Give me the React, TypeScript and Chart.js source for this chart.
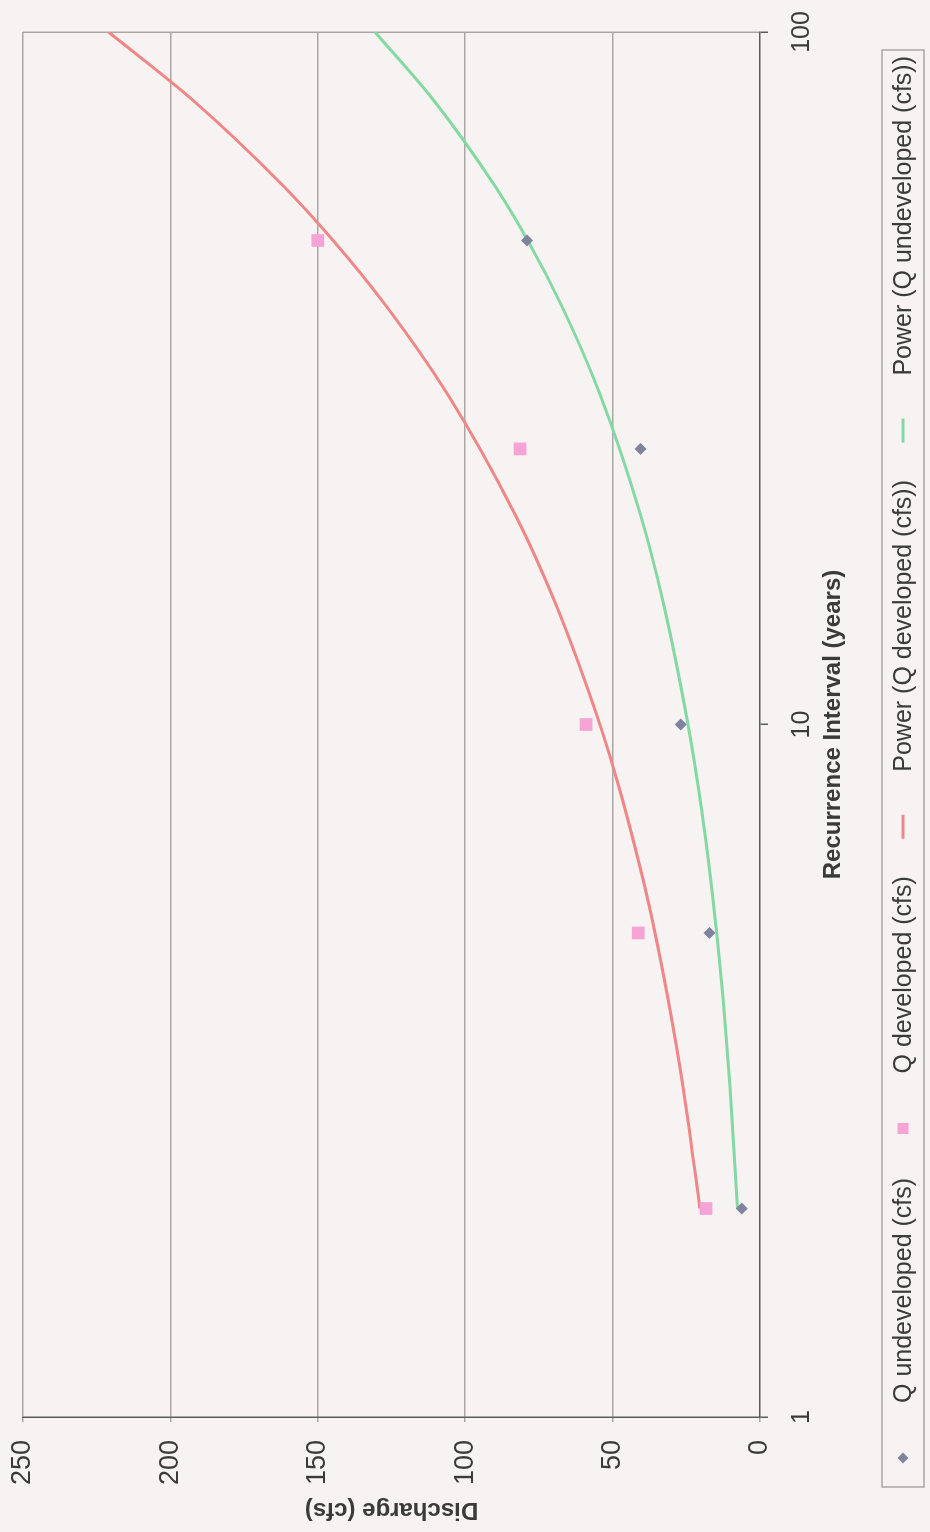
import React, { useEffect, useRef } from "react";
import { Chart, registerables } from "chart.js";

Chart.register(...registerables);

// ---- data ----
const RECURRENCE = [2, 5, 10, 25, 50];
const Q_UNDEVELOPED = [6.2, 17.1, 26.9, 40.5, 79];
const Q_DEVELOPED = [18.3, 41.3, 59, 81.4, 150];

const TREND_R = [2, 3, 4, 5, 6, 8, 10, 15, 20, 30, 40, 50, 60, 80, 100];
const POWER_DEVELOPED = [20.4, 26.1, 31.1, 35.6, 39.8, 47.4, 54.3, 69.5, 82.8, 106.0, 126.4, 144.8, 161.8, 192.8, 221];
const POWER_UNDEVELOPED = [7.6, 10.2, 12.5, 14.7, 16.8, 20.7, 24.4, 32.8, 40.4, 54.3, 67.0, 78.8, 90.0, 111.0, 130.6];

const X_TICKS = [1, 10, 100];
const Y_TICKS = [0, 50, 100, 150, 200, 250];

const LABEL_UNDEV = "Q undeveloped (cfs)";
const LABEL_DEV = "Q developed (cfs)";
const LABEL_POW_DEV = "Power (Q developed (cfs))";
const LABEL_POW_UNDEV = "Power (Q undeveloped (cfs))";
const X_TITLE = "Recurrence Interval (years)";
const Y_TITLE = "Discharge (cfs)";

// ---- styles ----
const FONT = "'Liberation Sans', Arial, Helvetica, sans-serif";
const BG = "#f6f3f2";
const GRID = "#a9a7a6";
const AXIS = "#5c5c5c";
const TEXT = "#3a3a3a";
const RED = "#f08686";
const GREEN = "#84d9a3";
const PINK = "#f6a3d6";
const DIAMOND = "#80839e";
const LEGEND_FONT = 25;

const W = 1532;
const H = 930;

const pts = (xs: number[], ys: number[]) => xs.map((x, i) => ({ x, y: ys[i] }));

const legendPlugin = {
  id: "boxLegend",
  afterDraw(chart: any) {
    const ctx = chart.ctx as CanvasRenderingContext2D;
    const box = { x: 45, y: 882, w: 1437, h: 42 };
    ctx.save();
    ctx.strokeStyle = GRID;
    ctx.lineWidth = 1.5;
    ctx.strokeRect(box.x, box.y, box.w, box.h);
    ctx.font = `${LEGEND_FONT}px ${FONT}`;
    ctx.textBaseline = "middle";
    ctx.textAlign = "left";
    const items = chart.data.datasets.map((d: any) => ({
      label: d.label,
      kind: d.legendKind,
      color: d.legendKind === "line" ? d.borderColor : d.backgroundColor,
    }));
    const widths = items.map((it: any) => ctx.measureText(it.label).width);
    const firstCenter = box.x + 29;
    const lastEnd = box.x + box.w - 6;
    const t = 55; // key centre to text start
    const textsTotal = widths.reduce((a: number, b: number) => a + b, 0);
    const gap = (lastEnd - firstCenter - items.length * t - textsTotal) / (items.length - 1);
    let cx = firstCenter;
    const cy = box.y + box.h / 2;
    items.forEach((it: any, i: number) => {
      ctx.fillStyle = it.color;
      ctx.strokeStyle = it.color;
      if (it.kind === "diamond") {
        const r = 5.5;
        ctx.beginPath();
        ctx.moveTo(cx, cy - r);
        ctx.lineTo(cx + r, cy);
        ctx.lineTo(cx, cy + r);
        ctx.lineTo(cx - r, cy);
        ctx.closePath();
        ctx.fill();
      } else if (it.kind === "square") {
        const r = 5.5;
        ctx.fillRect(cx - r, cy - r, 2 * r, 2 * r);
      } else {
        ctx.lineWidth = 3;
        ctx.beginPath();
        ctx.moveTo(cx - 12, cy);
        ctx.lineTo(cx + 12, cy);
        ctx.stroke();
      }
      ctx.fillStyle = TEXT;
      ctx.fillText(it.label, cx + t, cy + 1);
      cx += t + widths[i] + gap;
    });
    ctx.restore();
  },
};

export default function App() {
  const ref = useRef<HTMLCanvasElement | null>(null);

  useEffect(() => {
    if (!ref.current) return;
    const chart = new Chart(ref.current, {
      type: "scatter",
      data: {
        datasets: [
          {
            label: LABEL_UNDEV,
            data: pts(RECURRENCE, Q_UNDEVELOPED),
            backgroundColor: DIAMOND,
            borderColor: DIAMOND,
            pointStyle: "rectRot",
            pointRadius: 6,
            pointBorderWidth: 0,
            order: 0,
            legendKind: "diamond",
          } as any,
          {
            label: LABEL_DEV,
            data: pts(RECURRENCE, Q_DEVELOPED),
            backgroundColor: PINK,
            borderColor: PINK,
            pointStyle: "rect",
            pointRadius: 9,
            pointBorderWidth: 0,
            order: 0,
            legendKind: "square",
          } as any,
          {
            type: "line",
            label: LABEL_POW_DEV,
            data: pts(TREND_R, POWER_DEVELOPED),
            borderColor: RED,
            backgroundColor: RED,
            borderWidth: 3,
            pointRadius: 0,
            fill: false,
            cubicInterpolationMode: "monotone",
            order: 1,
            legendKind: "line",
          } as any,
          {
            type: "line",
            label: LABEL_POW_UNDEV,
            data: pts(TREND_R, POWER_UNDEVELOPED),
            borderColor: GREEN,
            backgroundColor: GREEN,
            borderWidth: 3,
            pointRadius: 0,
            fill: false,
            cubicInterpolationMode: "monotone",
            order: 1,
            legendKind: "line",
          } as any,
        ],
      },
      options: {
        animation: false,
        responsive: false,
        maintainAspectRatio: false,
        events: [],
        layout: { padding: { left: 0, top: 23, right: 32, bottom: 82 } },
        plugins: {
          legend: { display: false },
          tooltip: { enabled: false },
        },
        scales: {
          x: {
            type: "logarithmic",
            position: "bottom",
            min: 1,
            max: 100,
            afterBuildTicks: (s: any) => {
              s.ticks = X_TICKS.map((v) => ({ value: v }));
            },
            afterFit: (s: any) => {
              s.height = 88;
              s.paddingLeft = 0;
              s.paddingRight = 0;
            },
            grid: {
              color: (c: any) => (c.tick && c.tick.value === 100 ? GRID : "rgba(0,0,0,0)"),
              lineWidth: 1.5,
              tickLength: 8,
              tickColor: AXIS,
              tickWidth: 1.5,
            },
            border: { display: true, color: AXIS, width: 1.5 },
            ticks: {
              autoSkip: false,
              maxRotation: 0,
              padding: 19,
              color: TEXT,
              font: { family: FONT, size: 25 },
              callback: (v: any) => String(v),
            },
            title: {
              display: true,
              text: X_TITLE,
              color: TEXT,
              font: { family: FONT, size: 24, weight: "bold" },
              padding: { top: 0, bottom: 0 },
            },
          },
          y: {
            type: "linear",
            position: "left",
            min: 0,
            max: 250,
            afterBuildTicks: (s: any) => {
              s.ticks = Y_TICKS.map((v) => ({ value: v }));
            },
            afterFit: (s: any) => {
              s.width = 115;
              s.paddingTop = 0;
              s.paddingBottom = 0;
            },
            grid: {
              color: (c: any) => (c.tick && c.tick.value === 0 ? "rgba(0,0,0,0)" : GRID),
              lineWidth: 1.5,
              tickLength: 5,
              tickColor: GRID,
            },
            border: { display: true, color: AXIS, width: 1.5 },
            ticks: {
              padding: 18,
              color: TEXT,
              font: { family: FONT, size: 27 },
            },
            title: {
              display: true,
              text: Y_TITLE,
              color: TEXT,
              font: { family: FONT, size: 24, weight: "bold" },
              padding: { top: 8, bottom: 0 },
            },
          },
        },
      } as any,
      plugins: [legendPlugin],
    });
    return () => chart.destroy();
  }, []);

  return (
    <div
      style={{
        position: "fixed",
        left: 0,
        top: 0,
        width: 930,
        height: 1532,
        background: BG,
        overflow: "hidden",
      }}
    >
      <div
        style={{
          position: "absolute",
          left: 0,
          top: 0,
          width: W,
          height: H,
          transformOrigin: "0 0",
          transform: `translate(0px, ${W}px) rotate(-90deg)`,
        }}
      >
        <canvas ref={ref} width={W} height={H} style={{ display: "block", width: W, height: H }} />
      </div>
    </div>
  );
}
